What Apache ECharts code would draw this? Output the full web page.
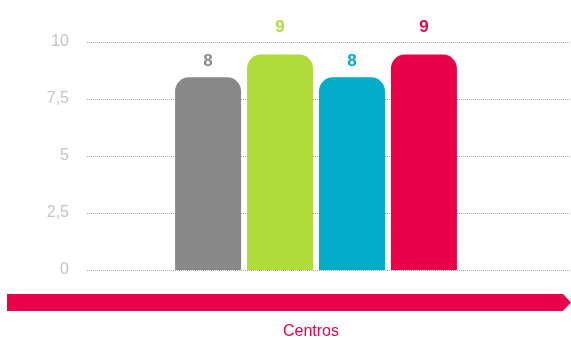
<!DOCTYPE html>
<html>
<head>
<meta charset="utf-8">
<script src="https://cdn.jsdelivr.net/npm/echarts@6/dist/echarts.min.js"></script>
<style>
html, body { margin: 0; padding: 0; background: #fff; }
#main { width: 571px; height: 340px; }
</style>
</head>
<body>
<div id="main"></div>
<script>
// datos
var categorias = ['Centros'];
var seriesNames = ['Serie 1', 'Serie 2', 'Serie 3', 'Serie 4'];
var valores = [8.45, 9.45, 8.45, 9.45];
var colores = ['#888888', '#b0dc3a', '#00acc8', '#e8004a'];
var yTicks = [0, 2.5, 5, 7.5, 10];
var labelDist = [8, 19, 8, 19];

var chart = echarts.init(document.getElementById('main'));

var series = [];
for (var i = 0; i < valores.length; i++) {
    series.push({
        name: seriesNames[i],
        type: 'bar',
        xAxisIndex: 1,
        yAxisIndex: 1,
        barWidth: 66,
        barGap: '9%',
        itemStyle: { color: colores[i], borderRadius: [14, 14, 0, 0] },
        label: {
            show: true,
            position: 'top',
            distance: labelDist[i],
            color: colores[i],
            fontSize: 17,
            fontWeight: 'bold',
            fontFamily: 'Liberation Sans, Arial, sans-serif',
            formatter: function (p) { return Math.floor(p.value).toString(); }
        },
        data: [valores[i]]
    });
}

chart.setOption({
    animation: false,
    grid: [
        { left: 87, right: 0, top: 42, bottom: 70, outerBoundsMode: 'none' },   // lineas de fondo
        { left: 87, right: 26, top: 42, bottom: 70, outerBoundsMode: 'none' }   // barras
    ],
    xAxis: [
        { type: 'category', gridIndex: 0, data: categorias, show: false },
        {
            type: 'category', gridIndex: 1, data: categorias,
            axisLine: { show: false }, axisTick: { show: false }, axisLabel: { show: false },
            name: 'Centros', nameLocation: 'middle', nameGap: 54,
            nameTextStyle: { color: '#e8004a', fontSize: 16, fontFamily: 'Liberation Sans, Arial, sans-serif', padding: [0, 10, 0, 0] }
        }
    ],
    yAxis: [
        {
            type: 'value', gridIndex: 0, min: yTicks[0], max: yTicks[yTicks.length - 1], interval: 2.5,
            axisLine: { show: false }, axisTick: { show: false },
            axisLabel: {
                margin: 18, color: '#c4c4c4', fontSize: 16,
                fontFamily: 'Liberation Sans, Arial, sans-serif',
                formatter: function (v) { return String(v).replace('.', ','); }
            },
            splitLine: { show: true, lineStyle: { color: '#a8a8a8', type: [1, 1], width: 1 } }
        },
        {
            type: 'value', gridIndex: 1, min: 0, max: 10, interval: 2.5,
            show: false, splitLine: { show: false }
        }
    ],
    graphic: [{
        type: 'polygon',
        z: 10,
        shape: { points: [[7, 294], [563, 294], [571, 302.5], [563, 311], [7, 311]] },
        style: { fill: '#e8004a' }
    }],
    series: series
});
</script>
</body>
</html>
